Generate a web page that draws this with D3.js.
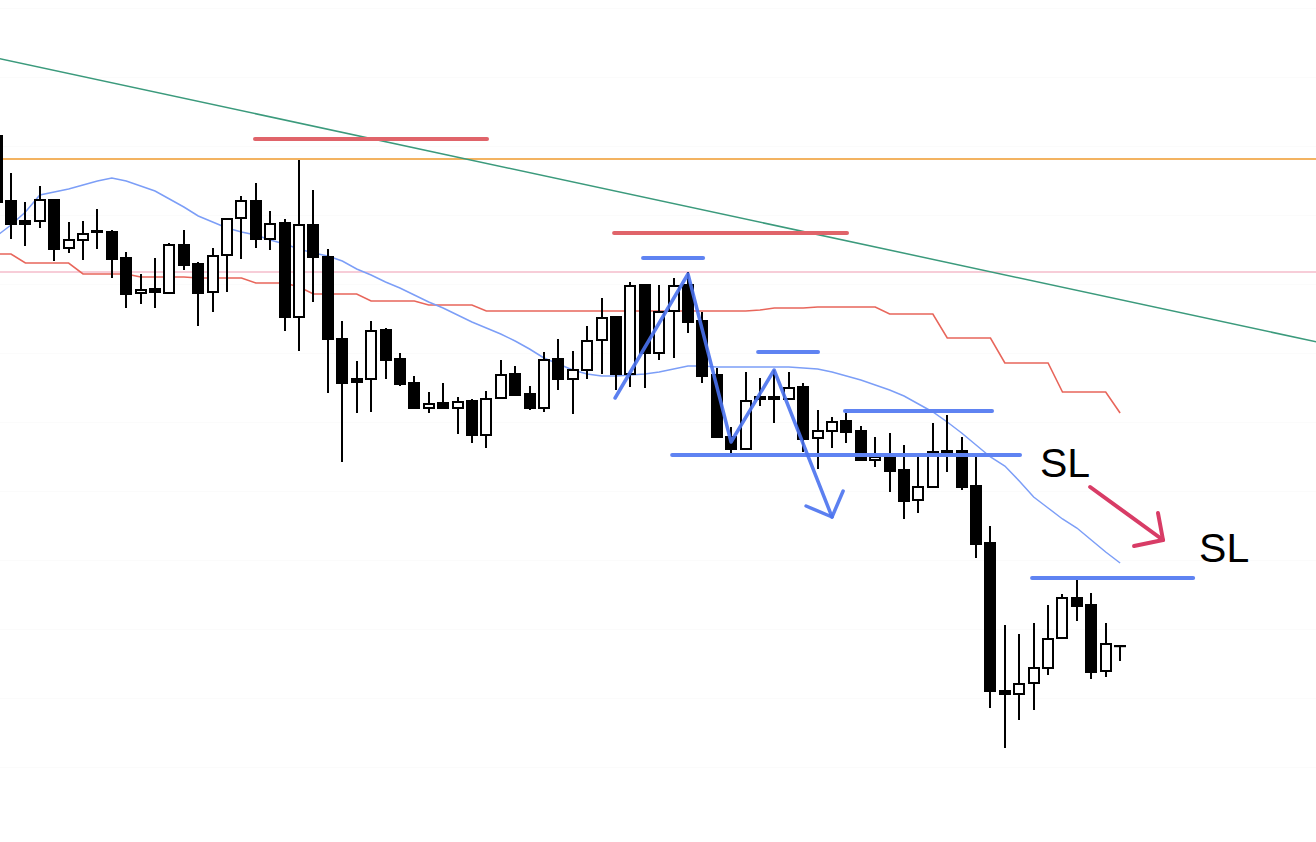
<!DOCTYPE html>
<html>
<head>
<meta charset="utf-8">
<script src="https://cdn.jsdelivr.net/npm/d3@7"></script>
<style>
  body { margin: 0; background: #fff; overflow: hidden; }
</style>
</head>
<body>
<div id="chart"></div>
<script>
// candle data (one per bar, left to right)
var opens = [155.06,154.41,154.21,154.21,154.42,153.94,154.02,154.10,154.10,153.84,
  153.49,153.53,153.49,153.97,153.78,153.50,153.87,154.24,154.41,154.03,
  154.19,153.25,154.17,153.85,153.03,152.63,152.63,153.12,152.83,152.59,
  152.34,152.39,152.34,152.41,152.07,152.44,152.68,152.48,152.34,152.83,
  152.63,152.72,153.02,153.25,152.68,153.57,152.89,153.31,153.57,153.21,
  152.67,152.05,151.93,152.45,152.45,152.43,152.55,152.04,152.11,152.21,
  152.11,151.82,151.86,151.72,151.42,151.55,151.90,151.91,151.56,150.99,
  149.51,149.48,149.59,149.74,150.04,150.44,150.37,149.71,149.96];
var highs = [155.14,154.69,154.40,154.56,154.42,154.20,154.21,154.33,154.12,153.90,
  153.68,153.84,153.99,154.12,153.80,153.94,154.24,154.46,154.59,154.31,
  154.23,154.82,154.52,153.93,153.21,152.81,153.21,153.14,152.89,152.66,
  152.50,152.59,152.45,152.43,152.51,152.82,152.76,152.56,152.90,153.03,
  152.91,153.16,153.44,153.26,153.60,153.57,153.57,153.64,153.70,153.30,
  152.74,152.15,152.70,152.64,152.72,152.70,152.59,152.32,152.25,152.30,
  152.16,152.05,152.09,151.97,151.88,152.19,152.27,152.05,151.85,151.16,
  150.17,150.08,150.19,150.37,150.48,150.63,150.49,150.19,149.96];
var lows = [154.36,154.03,153.96,154.14,153.81,153.89,153.82,153.93,153.64,153.34,
  153.38,153.34,153.49,153.72,153.16,153.30,153.50,153.83,153.94,153.92,
  153.11,152.91,153.40,152.49,151.80,152.29,152.30,152.63,152.56,152.34,
  152.29,152.34,152.08,151.99,151.94,152.44,152.46,152.32,152.30,152.52,
  152.28,152.63,152.68,152.52,152.55,152.54,152.82,152.84,153.09,152.59,
  152.05,151.89,151.93,152.36,152.19,152.42,151.90,151.73,151.94,151.99,
  151.81,151.75,151.50,151.23,151.29,151.54,151.70,151.52,150.84,149.34,
  148.94,149.22,149.32,149.67,150.04,150.21,149.63,149.65,149.81];
var closes = [154.40,154.18,154.18,154.42,153.93,154.02,154.08,154.11,153.83,153.48,
  153.52,153.50,153.97,153.77,153.49,153.86,154.23,154.41,154.03,154.18,
  153.25,154.17,153.85,153.03,152.59,152.60,153.11,152.82,152.58,152.34,
  152.38,152.34,152.40,152.07,152.43,152.67,152.47,152.34,152.82,152.63,
  152.72,153.01,153.24,152.68,153.56,152.89,153.30,153.56,153.20,152.66,
  152.05,151.93,152.41,152.43,152.43,152.54,152.03,152.11,152.20,152.10,
  151.82,151.85,151.71,151.41,151.55,151.90,151.91,151.55,150.98,149.51,
  149.48,149.58,149.74,150.03,150.44,150.36,149.70,149.98,149.96];

// moving average (blue) and base line (red steps)
var maLine = [154.06,154.17,154.30,154.47,154.50,154.53,154.57,154.61,154.64,154.61,
  154.56,154.51,154.43,154.35,154.26,154.20,154.14,154.10,154.07,154.02,
  153.98,153.93,153.89,153.86,153.81,153.73,153.67,153.60,153.54,153.47,
  153.40,153.34,153.27,153.20,153.14,153.08,153.01,152.93,152.84,152.78,
  152.72,152.68,152.66,152.66,152.67,152.68,152.70,152.73,152.76,152.76,
  152.75,152.75,152.75,152.75,152.75,152.75,152.74,152.73,152.70,152.66,
  152.62,152.57,152.52,152.46,152.38,152.30,152.20,152.09,151.97,151.85,
  151.76,151.61,151.45,151.34,151.23,151.14,151.02,150.90,150.79];
var baseLine = [153.88,153.88,153.79,153.79,153.79,153.79,153.68,153.68,153.68,153.68,
  153.65,153.65,153.65,153.65,153.64,153.64,153.64,153.64,153.59,153.59,
  153.59,153.55,153.48,153.48,153.48,153.48,153.41,153.41,153.41,153.41,
  153.37,153.37,153.37,153.37,153.31,153.31,153.31,153.31,153.31,153.31,
  153.31,153.31,153.31,153.31,153.31,153.31,153.31,153.31,153.31,153.31,
  153.31,153.31,153.31,153.32,153.34,153.34,153.34,153.35,153.35,153.35,
  153.35,153.35,153.28,153.28,153.28,153.28,153.04,153.04,153.04,153.04,
  152.79,152.79,152.79,152.79,152.50,152.50,152.50,152.50,152.29];

// faint price grid
var gridLevels = [156.34,155.65,154.96,154.27,153.58,152.89,152.20,151.51,150.82,150.13,149.44,148.75];

// full width levels
var orangeLevel = 154.83;
var pinkLevel = 153.70;
var trendLine = [[0, 155.84], [92, 152.99]];

// drawn annotations: [fromBar, toBar, price]
var redLevels = [[17.94, 34.05, 155.03], [42.87, 59.04, 154.09]];
var blueLevels = [[44.88, 49.05, 153.84], [52.87, 57.03, 152.90], [58.9, 69.11, 152.31],
  [46.9, 71.05, 151.87], [71.89, 83.07, 150.64]];
var zigzag = [[42.94, 152.44], [48.0, 153.68], [50.99, 152.00], [53.98, 152.72], [58.0, 151.25]];
var zigzagHead = [[56.2, 151.36], [58.0, 151.25], [58.77, 151.51]];
var slArrow = [[75.92, 151.55], [80.98, 151.02]];
var slArrowHead = [[80.63, 151.29], [80.98, 151.02], [78.97, 150.96]];
var slLabels = [[72.44, 151.65, "SL"], [83.48, 150.80, "SL"]];

const width = 1316;
const height = 842;

var svg = d3.select("#chart")
  .append("svg")
    .attr("width", width)
    .attr("height", height)
    .style("display", "block");

var x = d3.scaleLinear().domain([0, 78]).range([-3.4, 1120.1]);
var y = d3.scaleLinear().domain([148.00, 156.42]).range([height, 0]);

// grid
svg.append("g")
  .call(d3.axisRight(y).tickValues(gridLevels).tickSize(width).tickFormat(""))
  .call(g => g.select(".domain").remove())
  .selectAll("line")
    .attr("stroke", "#fbfbfb");

function hline(price, color, w) {
  svg.append("line")
    .attr("x1", 0).attr("x2", width)
    .attr("y1", y(price)).attr("y2", y(price))
    .attr("stroke", color)
    .attr("stroke-width", w);
}
hline(orangeLevel, "#ef9a2c", 1.5);
hline(pinkLevel, "#f4bccb", 1.5);

var pt = d3.line().x(d => x(d[0])).y(d => y(d[1]));

svg.append("path")
  .attr("d", pt(trendLine))
  .attr("fill", "none")
  .attr("stroke", "#3b9a7c")
  .attr("stroke-width", 1.5);

var series = d3.line().x((d, i) => x(i)).y(d => y(d));

svg.append("path")
  .attr("d", series(baseLine))
  .attr("fill", "none")
  .attr("stroke", "#e8665b")
  .attr("stroke-width", 1.6);

svg.append("path")
  .attr("d", series(maLine))
  .attr("fill", "none")
  .attr("stroke", "#7c9ef7")
  .attr("stroke-width", 1.5);

// candles
var bars = d3.range(opens.length);
var candle = svg.append("g").selectAll("g")
  .data(bars)
  .enter()
  .append("g");

candle.append("line")
  .attr("x1", i => Math.round(x(i)))
  .attr("x2", i => Math.round(x(i)))
  .attr("y1", i => y(highs[i]))
  .attr("y2", i => y(lows[i]))
  .attr("stroke", "#000")
  .attr("stroke-width", 2);

candle.append("rect")
  .attr("x", i => Math.round(x(i)) - 5)
  .attr("width", 10)
  .attr("y", i => y(Math.max(opens[i], closes[i])))
  .attr("height", i => Math.max(Math.abs(y(opens[i]) - y(closes[i])), 0.2))
  .attr("fill", i => closes[i] >= opens[i] ? "#fff" : "#000")
  .attr("stroke", "#000")
  .attr("stroke-width", 2);

// annotations
svg.append("g").selectAll("line")
  .data(redLevels)
  .enter()
  .append("line")
    .attr("x1", d => x(d[0])).attr("x2", d => x(d[1]))
    .attr("y1", d => y(d[2])).attr("y2", d => y(d[2]))
    .attr("stroke", "#e0646a")
    .attr("stroke-width", 4)
    .attr("stroke-linecap", "round");

svg.append("g").selectAll("line")
  .data(blueLevels)
  .enter()
  .append("line")
    .attr("x1", d => x(d[0])).attr("x2", d => x(d[1]))
    .attr("y1", d => y(d[2])).attr("y2", d => y(d[2]))
    .attr("stroke", "#5f83f2")
    .attr("stroke-width", 4)
    .attr("stroke-linecap", "round");

[zigzag, zigzagHead].forEach(function(p) {
  svg.append("path")
    .attr("d", pt(p))
    .attr("fill", "none")
    .attr("stroke", "#4a72ee")
    .attr("stroke-opacity", 0.9)
    .attr("stroke-width", 3.5)
    .attr("stroke-linecap", "round")
    .attr("stroke-linejoin", "round");
});

[slArrow, slArrowHead].forEach(function(p) {
  svg.append("path")
    .attr("d", pt(p))
    .attr("fill", "none")
    .attr("stroke", "#d83c66")
    .attr("stroke-width", 4)
    .attr("stroke-linecap", "round")
    .attr("stroke-linejoin", "round");
});

svg.append("g").selectAll("text")
  .data(slLabels)
  .enter()
  .append("text")
    .attr("x", d => x(d[0]))
    .attr("y", d => y(d[1]))
    .style("font-family", "'Liberation Sans', Arial, sans-serif")
    .style("font-size", "41px")
    .style("fill", "#000")
    .text(d => d[2]);
</script>
</body>
</html>
